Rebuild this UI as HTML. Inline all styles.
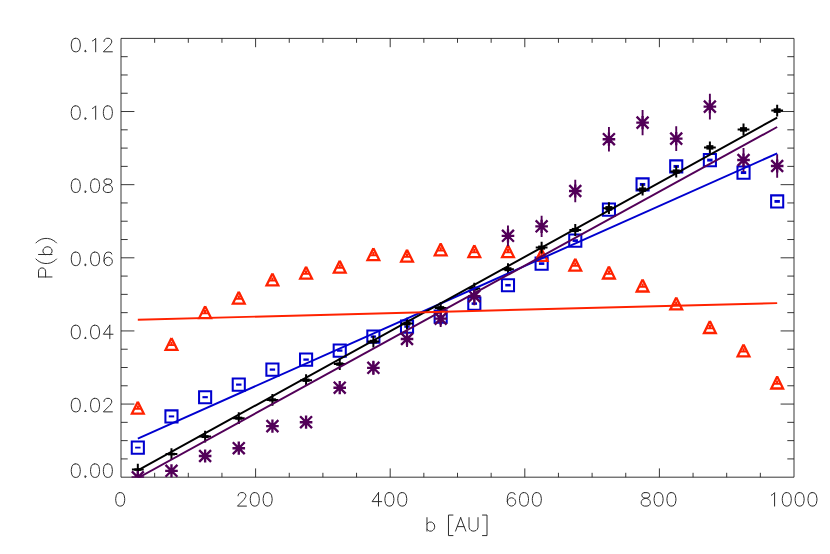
<!DOCTYPE html>
<html><head><meta charset="utf-8"><title>P(b)</title>
<style>html,body{margin:0;padding:0;background:#fff;font-family:"Liberation Sans",sans-serif;}svg{display:block}</style></head>
<body>
<svg width="830" height="554" viewBox="0 0 830 554">
<rect width="830" height="554" fill="#fff"/>
<path d="M121.00 38.40 H794.00 V477.20 H121.00 Z M154.65 477.20 v-4.40 M154.65 38.40 v4.40 M188.30 477.20 v-4.40 M188.30 38.40 v4.40 M221.95 477.20 v-4.40 M221.95 38.40 v4.40 M255.60 477.20 v-8.80 M255.60 38.40 v8.80 M289.25 477.20 v-4.40 M289.25 38.40 v4.40 M322.90 477.20 v-4.40 M322.90 38.40 v4.40 M356.55 477.20 v-4.40 M356.55 38.40 v4.40 M390.20 477.20 v-8.80 M390.20 38.40 v8.80 M423.85 477.20 v-4.40 M423.85 38.40 v4.40 M457.50 477.20 v-4.40 M457.50 38.40 v4.40 M491.15 477.20 v-4.40 M491.15 38.40 v4.40 M524.80 477.20 v-8.80 M524.80 38.40 v8.80 M558.45 477.20 v-4.40 M558.45 38.40 v4.40 M592.10 477.20 v-4.40 M592.10 38.40 v4.40 M625.75 477.20 v-4.40 M625.75 38.40 v4.40 M659.40 477.20 v-8.80 M659.40 38.40 v8.80 M693.05 477.20 v-4.40 M693.05 38.40 v4.40 M726.70 477.20 v-4.40 M726.70 38.40 v4.40 M760.35 477.20 v-4.40 M760.35 38.40 v4.40 M121.00 458.92 h6.70 M794.00 458.92 h-6.70 M121.00 440.63 h6.70 M794.00 440.63 h-6.70 M121.00 422.35 h6.70 M794.00 422.35 h-6.70 M121.00 404.07 h13.40 M794.00 404.07 h-13.40 M121.00 385.78 h6.70 M794.00 385.78 h-6.70 M121.00 367.50 h6.70 M794.00 367.50 h-6.70 M121.00 349.22 h6.70 M794.00 349.22 h-6.70 M121.00 330.93 h13.40 M794.00 330.93 h-13.40 M121.00 312.65 h6.70 M794.00 312.65 h-6.70 M121.00 294.37 h6.70 M794.00 294.37 h-6.70 M121.00 276.08 h6.70 M794.00 276.08 h-6.70 M121.00 257.80 h13.40 M794.00 257.80 h-13.40 M121.00 239.52 h6.70 M794.00 239.52 h-6.70 M121.00 221.23 h6.70 M794.00 221.23 h-6.70 M121.00 202.95 h6.70 M794.00 202.95 h-6.70 M121.00 184.67 h13.40 M794.00 184.67 h-13.40 M121.00 166.38 h6.70 M794.00 166.38 h-6.70 M121.00 148.10 h6.70 M794.00 148.10 h-6.70 M121.00 129.82 h6.70 M794.00 129.82 h-6.70 M121.00 111.53 h13.40 M794.00 111.53 h-13.40 M121.00 93.25 h6.70 M794.00 93.25 h-6.70 M121.00 74.97 h6.70 M794.00 74.97 h-6.70 M121.00 56.68 h6.70 M794.00 56.68 h-6.70" fill="none" stroke="#1c1c1c" stroke-width="0.88"/>
<path d="M119.56 492.62 L117.63 493.26 L116.35 495.19 L115.71 498.40 L115.71 500.32 L116.35 503.53 L117.63 505.46 L119.56 506.10 L120.84 506.10 L122.77 505.46 L124.05 503.53 L124.69 500.32 L124.69 498.40 L124.05 495.19 L122.77 493.26 L120.84 492.62 L119.56 492.62 M238.11 495.83 L238.11 495.19 L238.75 493.90 L239.39 493.26 L240.68 492.62 L243.24 492.62 L244.53 493.26 L245.17 493.90 L245.81 495.19 L245.81 496.47 L245.17 497.75 L243.89 499.68 L237.47 506.10 L246.45 506.10 M254.16 492.62 L252.23 493.26 L250.95 495.19 L250.31 498.40 L250.31 500.32 L250.95 503.53 L252.23 505.46 L254.16 506.10 L255.44 506.10 L257.37 505.46 L258.65 503.53 L259.29 500.32 L259.29 498.40 L258.65 495.19 L257.37 493.26 L255.44 492.62 L254.16 492.62 M267.00 492.62 L265.07 493.26 L263.79 495.19 L263.15 498.40 L263.15 500.32 L263.79 503.53 L265.07 505.46 L267.00 506.10 L268.28 506.10 L270.21 505.46 L271.49 503.53 L272.13 500.32 L272.13 498.40 L271.49 495.19 L270.21 493.26 L268.28 492.62 L267.00 492.62 M378.49 492.62 L372.07 501.61 L381.70 501.61 M378.49 492.62 L378.49 506.10 M388.76 492.62 L386.83 493.26 L385.55 495.19 L384.91 498.40 L384.91 500.32 L385.55 503.53 L386.83 505.46 L388.76 506.10 L390.04 506.10 L391.97 505.46 L393.25 503.53 L393.89 500.32 L393.89 498.40 L393.25 495.19 L391.97 493.26 L390.04 492.62 L388.76 492.62 M401.60 492.62 L399.67 493.26 L398.39 495.19 L397.75 498.40 L397.75 500.32 L398.39 503.53 L399.67 505.46 L401.60 506.10 L402.88 506.10 L404.81 505.46 L406.09 503.53 L406.73 500.32 L406.73 498.40 L406.09 495.19 L404.81 493.26 L402.88 492.62 L401.60 492.62 M515.01 494.54 L514.37 493.26 L512.44 492.62 L511.16 492.62 L509.23 493.26 L507.95 495.19 L507.31 498.40 L507.31 501.61 L507.95 504.17 L509.23 505.46 L511.16 506.10 L511.80 506.10 L513.73 505.46 L515.01 504.17 L515.65 502.25 L515.65 501.61 L515.01 499.68 L513.73 498.40 L511.80 497.75 L511.16 497.75 L509.23 498.40 L507.95 499.68 L507.31 501.61 M523.36 492.62 L521.43 493.26 L520.15 495.19 L519.51 498.40 L519.51 500.32 L520.15 503.53 L521.43 505.46 L523.36 506.10 L524.64 506.10 L526.57 505.46 L527.85 503.53 L528.49 500.32 L528.49 498.40 L527.85 495.19 L526.57 493.26 L524.64 492.62 L523.36 492.62 M536.20 492.62 L534.27 493.26 L532.99 495.19 L532.35 498.40 L532.35 500.32 L532.99 503.53 L534.27 505.46 L536.20 506.10 L537.48 506.10 L539.41 505.46 L540.69 503.53 L541.33 500.32 L541.33 498.40 L540.69 495.19 L539.41 493.26 L537.48 492.62 L536.20 492.62 M644.48 492.62 L642.55 493.26 L641.91 494.54 L641.91 495.83 L642.55 497.11 L643.83 497.75 L646.40 498.40 L648.33 499.04 L649.61 500.32 L650.25 501.61 L650.25 503.53 L649.61 504.82 L648.97 505.46 L647.04 506.10 L644.48 506.10 L642.55 505.46 L641.91 504.82 L641.27 503.53 L641.27 501.61 L641.91 500.32 L643.19 499.04 L645.12 498.40 L647.69 497.75 L648.97 497.11 L649.61 495.83 L649.61 494.54 L648.97 493.26 L647.04 492.62 L644.48 492.62 M657.96 492.62 L656.03 493.26 L654.75 495.19 L654.11 498.40 L654.11 500.32 L654.75 503.53 L656.03 505.46 L657.96 506.10 L659.24 506.10 L661.17 505.46 L662.45 503.53 L663.09 500.32 L663.09 498.40 L662.45 495.19 L661.17 493.26 L659.24 492.62 L657.96 492.62 M670.80 492.62 L668.87 493.26 L667.59 495.19 L666.95 498.40 L666.95 500.32 L667.59 503.53 L668.87 505.46 L670.80 506.10 L672.08 506.10 L674.01 505.46 L675.29 503.53 L675.93 500.32 L675.93 498.40 L675.29 495.19 L674.01 493.26 L672.08 492.62 L670.80 492.62 M771.37 495.19 L772.66 494.54 L774.58 492.62 L774.58 506.10 M786.14 492.62 L784.21 493.26 L782.93 495.19 L782.29 498.40 L782.29 500.32 L782.93 503.53 L784.21 505.46 L786.14 506.10 L787.42 506.10 L789.35 505.46 L790.63 503.53 L791.27 500.32 L791.27 498.40 L790.63 495.19 L789.35 493.26 L787.42 492.62 L786.14 492.62 M798.98 492.62 L797.05 493.26 L795.77 495.19 L795.13 498.40 L795.13 500.32 L795.77 503.53 L797.05 505.46 L798.98 506.10 L800.26 506.10 L802.19 505.46 L803.47 503.53 L804.11 500.32 L804.11 498.40 L803.47 495.19 L802.19 493.26 L800.26 492.62 L798.98 492.62 M811.82 492.62 L809.89 493.26 L808.61 495.19 L807.97 498.40 L807.97 500.32 L808.61 503.53 L809.89 505.46 L811.82 506.10 L813.10 506.10 L815.03 505.46 L816.31 503.53 L816.95 500.32 L816.95 498.40 L816.31 495.19 L815.03 493.26 L813.10 492.62 L811.82 492.62 M75.14 463.92 L73.21 464.56 L71.93 466.49 L71.29 469.70 L71.29 471.62 L71.93 474.83 L73.21 476.76 L75.14 477.40 L76.42 477.40 L78.35 476.76 L79.63 474.83 L80.27 471.62 L80.27 469.70 L79.63 466.49 L78.35 464.56 L76.42 463.92 L75.14 463.92 M85.41 475.99 L84.64 476.76 L85.41 477.53 L86.18 476.76 L85.41 475.99 M85.15 476.76 L85.67 476.76 M94.40 463.92 L92.47 464.56 L91.19 466.49 L90.55 469.70 L90.55 471.62 L91.19 474.83 L92.47 476.76 L94.40 477.40 L95.68 477.40 L97.61 476.76 L98.89 474.83 L99.53 471.62 L99.53 469.70 L98.89 466.49 L97.61 464.56 L95.68 463.92 L94.40 463.92 M107.24 463.92 L105.31 464.56 L104.03 466.49 L103.39 469.70 L103.39 471.62 L104.03 474.83 L105.31 476.76 L107.24 477.40 L108.52 477.40 L110.45 476.76 L111.73 474.83 L112.37 471.62 L112.37 469.70 L111.73 466.49 L110.45 464.56 L108.52 463.92 L107.24 463.92 M75.14 398.38 L73.21 399.03 L71.93 400.95 L71.29 404.16 L71.29 406.09 L71.93 409.30 L73.21 411.22 L75.14 411.87 L76.42 411.87 L78.35 411.22 L79.63 409.30 L80.27 406.09 L80.27 404.16 L79.63 400.95 L78.35 399.03 L76.42 398.38 L75.14 398.38 M85.41 410.45 L84.64 411.22 L85.41 412.00 L86.18 411.22 L85.41 410.45 M85.15 411.22 L85.67 411.22 M94.40 398.38 L92.47 399.03 L91.19 400.95 L90.55 404.16 L90.55 406.09 L91.19 409.30 L92.47 411.22 L94.40 411.87 L95.68 411.87 L97.61 411.22 L98.89 409.30 L99.53 406.09 L99.53 404.16 L98.89 400.95 L97.61 399.03 L95.68 398.38 L94.40 398.38 M104.03 401.59 L104.03 400.95 L104.67 399.67 L105.31 399.03 L106.60 398.38 L109.16 398.38 L110.45 399.03 L111.09 399.67 L111.73 400.95 L111.73 402.24 L111.09 403.52 L109.81 405.45 L103.39 411.87 L112.37 411.87 M75.14 325.25 L73.21 325.89 L71.93 327.82 L71.29 331.03 L71.29 332.96 L71.93 336.17 L73.21 338.09 L75.14 338.73 L76.42 338.73 L78.35 338.09 L79.63 336.17 L80.27 332.96 L80.27 331.03 L79.63 327.82 L78.35 325.89 L76.42 325.25 L75.14 325.25 M85.41 337.32 L84.64 338.09 L85.41 338.86 L86.18 338.09 L85.41 337.32 M85.15 338.09 L85.67 338.09 M94.40 325.25 L92.47 325.89 L91.19 327.82 L90.55 331.03 L90.55 332.96 L91.19 336.17 L92.47 338.09 L94.40 338.73 L95.68 338.73 L97.61 338.09 L98.89 336.17 L99.53 332.96 L99.53 331.03 L98.89 327.82 L97.61 325.89 L95.68 325.25 L94.40 325.25 M109.81 325.25 L103.39 334.24 L113.02 334.24 M109.81 325.25 L109.81 338.73 M75.14 252.12 L73.21 252.76 L71.93 254.69 L71.29 257.90 L71.29 259.82 L71.93 263.03 L73.21 264.96 L75.14 265.60 L76.42 265.60 L78.35 264.96 L79.63 263.03 L80.27 259.82 L80.27 257.90 L79.63 254.69 L78.35 252.76 L76.42 252.12 L75.14 252.12 M85.41 264.19 L84.64 264.96 L85.41 265.73 L86.18 264.96 L85.41 264.19 M85.15 264.96 L85.67 264.96 M94.40 252.12 L92.47 252.76 L91.19 254.69 L90.55 257.90 L90.55 259.82 L91.19 263.03 L92.47 264.96 L94.40 265.60 L95.68 265.60 L97.61 264.96 L98.89 263.03 L99.53 259.82 L99.53 257.90 L98.89 254.69 L97.61 252.76 L95.68 252.12 L94.40 252.12 M111.73 254.04 L111.09 252.76 L109.16 252.12 L107.88 252.12 L105.95 252.76 L104.67 254.69 L104.03 257.90 L104.03 261.11 L104.67 263.67 L105.95 264.96 L107.88 265.60 L108.52 265.60 L110.45 264.96 L111.73 263.67 L112.37 261.75 L112.37 261.11 L111.73 259.18 L110.45 257.90 L108.52 257.25 L107.88 257.25 L105.95 257.90 L104.67 259.18 L104.03 261.11 M75.14 178.98 L73.21 179.63 L71.93 181.55 L71.29 184.76 L71.29 186.69 L71.93 189.90 L73.21 191.82 L75.14 192.47 L76.42 192.47 L78.35 191.82 L79.63 189.90 L80.27 186.69 L80.27 184.76 L79.63 181.55 L78.35 179.63 L76.42 178.98 L75.14 178.98 M85.41 191.05 L84.64 191.82 L85.41 192.60 L86.18 191.82 L85.41 191.05 M85.15 191.82 L85.67 191.82 M94.40 178.98 L92.47 179.63 L91.19 181.55 L90.55 184.76 L90.55 186.69 L91.19 189.90 L92.47 191.82 L94.40 192.47 L95.68 192.47 L97.61 191.82 L98.89 189.90 L99.53 186.69 L99.53 184.76 L98.89 181.55 L97.61 179.63 L95.68 178.98 L94.40 178.98 M106.60 178.98 L104.67 179.63 L104.03 180.91 L104.03 182.19 L104.67 183.48 L105.95 184.12 L108.52 184.76 L110.45 185.40 L111.73 186.69 L112.37 187.97 L112.37 189.90 L111.73 191.18 L111.09 191.82 L109.16 192.47 L106.60 192.47 L104.67 191.82 L104.03 191.18 L103.39 189.90 L103.39 187.97 L104.03 186.69 L105.31 185.40 L107.24 184.76 L109.81 184.12 L111.09 183.48 L111.73 182.19 L111.73 180.91 L111.09 179.63 L109.16 178.98 L106.60 178.98 M75.14 105.85 L73.21 106.49 L71.93 108.42 L71.29 111.63 L71.29 113.56 L71.93 116.77 L73.21 118.69 L75.14 119.33 L76.42 119.33 L78.35 118.69 L79.63 116.77 L80.27 113.56 L80.27 111.63 L79.63 108.42 L78.35 106.49 L76.42 105.85 L75.14 105.85 M85.41 117.92 L84.64 118.69 L85.41 119.46 L86.18 118.69 L85.41 117.92 M85.15 118.69 L85.67 118.69 M92.47 108.42 L93.76 107.78 L95.68 105.85 L95.68 119.33 M107.24 105.85 L105.31 106.49 L104.03 108.42 L103.39 111.63 L103.39 113.56 L104.03 116.77 L105.31 118.69 L107.24 119.33 L108.52 119.33 L110.45 118.69 L111.73 116.77 L112.37 113.56 L112.37 111.63 L111.73 108.42 L110.45 106.49 L108.52 105.85 L107.24 105.85 M75.14 38.32 L73.21 38.96 L71.93 40.89 L71.29 44.10 L71.29 46.02 L71.93 49.23 L73.21 51.16 L75.14 51.80 L76.42 51.80 L78.35 51.16 L79.63 49.23 L80.27 46.02 L80.27 44.10 L79.63 40.89 L78.35 38.96 L76.42 38.32 L75.14 38.32 M85.41 50.39 L84.64 51.16 L85.41 51.93 L86.18 51.16 L85.41 50.39 M85.15 51.16 L85.67 51.16 M92.47 40.89 L93.76 40.24 L95.68 38.32 L95.68 51.80 M104.03 41.53 L104.03 40.89 L104.67 39.60 L105.31 38.96 L106.60 38.32 L109.16 38.32 L110.45 38.96 L111.09 39.60 L111.73 40.89 L111.73 42.17 L111.09 43.45 L109.81 45.38 L103.39 51.80 L112.37 51.80 M426.97 517.62 L426.97 531.10 M426.97 524.04 L428.25 522.75 L429.54 522.11 L431.46 522.11 L432.75 522.75 L434.03 524.04 L434.67 525.96 L434.67 527.25 L434.03 529.17 L432.75 530.46 L431.46 531.10 L429.54 531.10 L428.25 530.46 L426.97 529.17 M452.97 515.05 L448.47 515.05 L448.47 535.59 L452.97 535.59 M460.67 517.62 L455.54 531.10 M460.67 517.62 L465.81 531.10 M457.46 526.61 L463.88 526.61 M469.02 517.62 L469.02 527.25 L469.66 529.17 L470.94 530.46 L472.87 531.10 L474.15 531.10 L476.08 530.46 L477.37 529.17 L478.01 527.25 L478.01 517.62 M482.50 515.05 L487.00 515.05 L487.00 535.59 L482.50 535.59 M38.52 276.96 L52.00 276.96 M38.52 276.96 L38.52 271.18 L39.16 269.26 L39.80 268.61 L41.09 267.97 L43.01 267.97 L44.30 268.61 L44.94 269.26 L45.58 271.18 L45.58 276.96 M35.95 258.98 L37.23 260.27 L39.16 261.55 L41.73 262.84 L44.94 263.48 L47.51 263.48 L50.72 262.84 L53.28 261.55 L55.21 260.27 L56.49 258.98 M38.52 254.49 L52.00 254.49 M44.94 254.49 L43.65 253.21 L43.01 251.92 L43.01 250.00 L43.65 248.71 L44.94 247.43 L46.86 246.79 L48.15 246.79 L50.07 247.43 L51.36 248.71 L52.00 250.00 L52.00 251.92 L51.36 253.21 L50.07 254.49 M35.95 242.93 L37.23 241.65 L39.16 240.37 L41.73 239.08 L44.94 238.44 L47.51 238.44 L50.72 239.08 L53.28 240.37 L55.21 241.65 L56.49 242.93" fill="none" stroke="#2c2c2c" stroke-width="1.0" stroke-linecap="round" stroke-linejoin="miter"/>
<clipPath id="c"><rect x="121.00" y="38.40" width="673.00" height="439.40"/></clipPath>
<g clip-path="url(#c)" fill="none"><g transform="translate(0,0.6)">
<path d="M131.77 440.95 h12.1 v12.1 h-12.1 Z M165.42 409.75 h12.1 v12.1 h-12.1 Z M199.07 390.55 h12.1 v12.1 h-12.1 Z M232.72 377.95 h12.1 v12.1 h-12.1 Z M266.38 362.95 h12.1 v12.1 h-12.1 Z M300.02 352.95 h12.1 v12.1 h-12.1 Z M333.68 343.95 h12.1 v12.1 h-12.1 Z M367.32 329.95 h12.1 v12.1 h-12.1 Z M400.97 319.95 h12.1 v12.1 h-12.1 Z M434.62 309.95 h12.1 v12.1 h-12.1 Z M468.27 296.95 h12.1 v12.1 h-12.1 Z M501.93 278.55 h12.1 v12.1 h-12.1 Z M535.58 256.95 h12.1 v12.1 h-12.1 Z M569.23 233.95 h12.1 v12.1 h-12.1 Z M602.88 202.95 h12.1 v12.1 h-12.1 Z M636.53 177.75 h12.1 v12.1 h-12.1 Z M670.18 159.75 h12.1 v12.1 h-12.1 Z M703.83 153.45 h12.1 v12.1 h-12.1 Z M737.48 165.95 h12.1 v12.1 h-12.1 Z M771.12 194.75 h12.1 v12.1 h-12.1 Z" stroke="#0000cf" stroke-width="2.05"/>
<g fill="#0000cf" stroke="none"><rect x="135.12" y="446.12" width="5.4" height="1.77"/><rect x="168.78" y="414.81" width="5.4" height="1.99"/><rect x="202.43" y="395.55" width="5.4" height="2.10"/><rect x="236.08" y="382.92" width="5.4" height="2.16"/><rect x="269.73" y="367.88" width="5.4" height="2.23"/><rect x="303.38" y="357.86" width="5.4" height="2.27"/><rect x="337.03" y="348.84" width="5.4" height="2.31"/><rect x="370.68" y="334.82" width="5.4" height="2.37"/><rect x="404.32" y="324.80" width="5.4" height="2.41"/><rect x="437.98" y="314.78" width="5.4" height="2.45"/><rect x="471.62" y="301.75" width="5.4" height="2.49"/><rect x="505.28" y="283.32" width="5.4" height="2.56"/><rect x="538.92" y="261.69" width="5.4" height="2.63"/><rect x="572.57" y="238.65" width="5.4" height="2.70"/><rect x="606.22" y="207.60" width="5.4" height="2.79"/><rect x="639.88" y="182.37" width="5.4" height="2.86"/><rect x="673.52" y="164.34" width="5.4" height="2.91"/><rect x="707.17" y="158.04" width="5.4" height="2.93"/><rect x="740.82" y="170.55" width="5.4" height="2.90"/><rect x="774.47" y="199.39" width="5.4" height="2.82"/></g>
<path d="M137.82 401.10 L143.72 413.00 L131.92 413.00 L137.82 401.10 M171.47 337.30 L177.38 349.20 L165.57 349.20 L171.47 337.30 M205.12 305.60 L211.03 317.50 L199.22 317.50 L205.12 305.60 M238.78 291.10 L244.68 303.00 L232.88 303.00 L238.78 291.10 M272.43 272.90 L278.32 284.80 L266.53 284.80 L272.43 272.90 M306.07 266.10 L311.97 278.00 L300.18 278.00 L306.07 266.10 M339.73 260.10 L345.62 272.00 L333.83 272.00 L339.73 260.10 M373.38 247.60 L379.27 259.50 L367.48 259.50 L373.38 247.60 M407.02 249.10 L412.92 261.00 L401.12 261.00 L407.02 249.10 M440.68 242.80 L446.57 254.70 L434.78 254.70 L440.68 242.80 M474.32 244.60 L480.22 256.50 L468.43 256.50 L474.32 244.60 M507.98 244.60 L513.88 256.50 L502.08 256.50 L507.98 244.60 M541.62 248.30 L547.52 260.20 L535.73 260.20 L541.62 248.30 M575.27 258.10 L581.17 270.00 L569.38 270.00 L575.27 258.10 M608.92 266.00 L614.82 277.90 L603.02 277.90 L608.92 266.00 M642.58 279.00 L648.48 290.90 L636.68 290.90 L642.58 279.00 M676.23 296.90 L682.12 308.80 L670.33 308.80 L676.23 296.90 M709.88 320.50 L715.77 332.40 L703.98 332.40 L709.88 320.50 M743.52 343.80 L749.42 355.70 L737.62 355.70 L743.52 343.80 M777.17 376.00 L783.07 387.90 L771.27 387.90 L777.17 376.00" stroke="#ff2200" stroke-width="2.30" stroke-linejoin="miter"/>
<path d="M134.62 407.40 h6.4 v1.8 h-6.4 Z M136.72 405.00 h2.2 v2.8 h-2.2 Z M168.28 343.60 h6.4 v1.8 h-6.4 Z M170.38 341.20 h2.2 v2.8 h-2.2 Z M201.93 311.90 h6.4 v1.8 h-6.4 Z M204.03 309.50 h2.2 v2.8 h-2.2 Z M235.58 297.40 h6.4 v1.8 h-6.4 Z M237.68 295.00 h2.2 v2.8 h-2.2 Z M269.23 279.20 h6.4 v1.8 h-6.4 Z M271.32 276.80 h2.2 v2.8 h-2.2 Z M302.88 272.40 h6.4 v1.8 h-6.4 Z M304.97 270.00 h2.2 v2.8 h-2.2 Z M336.53 266.40 h6.4 v1.8 h-6.4 Z M338.62 264.00 h2.2 v2.8 h-2.2 Z M370.18 253.90 h6.4 v1.8 h-6.4 Z M372.27 251.50 h2.2 v2.8 h-2.2 Z M403.82 255.40 h6.4 v1.8 h-6.4 Z M405.92 253.00 h2.2 v2.8 h-2.2 Z M437.48 249.10 h6.4 v1.8 h-6.4 Z M439.57 246.70 h2.2 v2.8 h-2.2 Z M471.12 250.90 h6.4 v1.8 h-6.4 Z M473.22 248.50 h2.2 v2.8 h-2.2 Z M504.78 250.90 h6.4 v1.8 h-6.4 Z M506.88 248.50 h2.2 v2.8 h-2.2 Z M538.42 254.60 h6.4 v1.8 h-6.4 Z M540.52 252.20 h2.2 v2.8 h-2.2 Z M572.07 264.40 h6.4 v1.8 h-6.4 Z M574.17 262.00 h2.2 v2.8 h-2.2 Z M605.72 272.30 h6.4 v1.8 h-6.4 Z M607.82 269.90 h2.2 v2.8 h-2.2 Z M639.38 285.30 h6.4 v1.8 h-6.4 Z M641.48 282.90 h2.2 v2.8 h-2.2 Z M673.02 303.20 h6.4 v1.8 h-6.4 Z M675.12 300.80 h2.2 v2.8 h-2.2 Z M706.67 326.80 h6.4 v1.8 h-6.4 Z M708.77 324.40 h2.2 v2.8 h-2.2 Z M740.32 350.10 h6.4 v1.8 h-6.4 Z M742.42 347.70 h2.2 v2.8 h-2.2 Z M773.97 382.30 h6.4 v1.8 h-6.4 Z M776.07 379.90 h2.2 v2.8 h-2.2 Z" fill="#ff2200" stroke="none"/>
<path d="M131.92 469.00 h11.80 M137.82 463.10 v11.80 M165.57 453.50 h11.80 M171.47 447.60 v11.80 M199.22 436.00 h11.80 M205.12 430.10 v11.80 M232.88 417.60 h11.80 M238.78 411.70 v11.80 M266.53 399.30 h11.80 M272.43 393.40 v11.80 M300.18 379.60 h11.80 M306.07 373.70 v11.80 M333.83 363.50 h11.80 M339.73 357.60 v11.80 M367.48 341.00 h11.80 M373.38 335.10 v11.80 M401.12 323.00 h11.80 M407.02 317.10 v11.80 M434.78 307.40 h11.80 M440.68 301.50 v11.80 M468.43 288.00 h11.80 M474.32 282.10 v11.80 M502.08 268.60 h11.80 M507.98 262.70 v11.80 M535.73 247.00 h11.80 M541.62 241.10 v11.80 M569.38 229.40 h11.80 M575.27 223.50 v11.80 M603.02 207.60 h11.80 M608.92 201.70 v11.80 M636.68 189.00 h11.80 M642.58 183.10 v11.80 M670.33 171.00 h11.80 M676.23 165.10 v11.80 M703.98 146.80 h11.80 M709.88 140.90 v11.80 M737.62 128.80 h11.80 M743.52 122.90 v11.80 M771.27 110.00 h11.80 M777.17 104.10 v11.80" stroke="#000" stroke-width="2.00"/>
<g fill="#000" stroke="none"><rect x="134.32" y="467.81" width="7" height="2.39"/><rect x="167.97" y="452.17" width="7" height="2.66"/><rect x="201.62" y="434.56" width="7" height="2.87"/><rect x="235.28" y="416.08" width="7" height="3.05"/><rect x="268.93" y="397.70" width="7" height="3.20"/><rect x="302.57" y="377.93" width="7" height="3.34"/><rect x="336.23" y="361.78" width="7" height="3.45"/><rect x="369.88" y="339.21" width="7" height="3.58"/><rect x="403.52" y="321.16" width="7" height="3.68"/><rect x="437.18" y="305.52" width="7" height="3.77"/><rect x="470.82" y="286.07" width="7" height="3.86"/><rect x="504.48" y="266.62" width="7" height="3.96"/><rect x="538.12" y="244.97" width="7" height="4.06"/><rect x="571.77" y="227.33" width="7" height="4.13"/><rect x="605.42" y="205.49" width="7" height="4.23"/><rect x="639.08" y="186.85" width="7" height="4.30"/><rect x="672.73" y="168.81" width="7" height="4.37"/><rect x="706.38" y="144.57" width="7" height="4.46"/><rect x="740.02" y="126.54" width="7" height="4.53"/><rect x="773.67" y="107.70" width="7" height="4.60"/></g>
<path d="M131.52 476.80 h12.60 M137.82 470.20 v13.20 M131.88 470.85 l11.90 11.90 M131.88 482.75 l11.90 -11.90 M165.17 470.20 h12.60 M171.47 463.60 v13.20 M165.53 464.25 l11.90 11.90 M165.53 476.15 l11.90 -11.90 M198.82 455.40 h12.60 M205.12 448.80 v13.20 M199.18 449.45 l11.90 11.90 M199.18 461.35 l11.90 -11.90 M232.47 447.60 h12.60 M238.78 441.00 v13.20 M232.83 441.65 l11.90 11.90 M232.83 453.55 l11.90 -11.90 M266.12 425.50 h12.60 M272.43 418.90 v13.20 M266.48 419.55 l11.90 11.90 M266.48 431.45 l11.90 -11.90 M299.77 421.60 h12.60 M306.07 415.00 v13.20 M300.12 415.65 l11.90 11.90 M300.12 427.55 l11.90 -11.90 M333.43 387.10 h12.60 M339.73 380.50 v13.20 M333.78 381.15 l11.90 11.90 M333.78 393.05 l11.90 -11.90 M367.07 367.20 h12.60 M373.38 360.60 v13.20 M367.43 361.25 l11.90 11.90 M367.43 373.15 l11.90 -11.90 M400.72 338.40 h12.60 M407.02 331.80 v13.20 M401.07 332.45 l11.90 11.90 M401.07 344.35 l11.90 -11.90 M434.38 318.00 h12.60 M440.68 311.40 v13.20 M434.73 312.05 l11.90 11.90 M434.73 323.95 l11.90 -11.90 M468.02 295.60 h12.60 M474.32 289.00 v13.20 M468.38 289.65 l11.90 11.90 M468.38 301.55 l11.90 -11.90 M501.68 235.20 h12.60 M507.98 228.60 v13.20 M502.03 229.25 l11.90 11.90 M502.03 241.15 l11.90 -11.90 M535.33 225.70 h12.60 M541.62 219.10 v13.20 M535.67 219.75 l11.90 11.90 M535.67 231.65 l11.90 -11.90 M568.98 190.40 h12.60 M575.27 183.80 v13.20 M569.32 184.45 l11.90 11.90 M569.32 196.35 l11.90 -11.90 M602.62 138.60 h12.60 M608.92 132.00 v13.20 M602.97 132.65 l11.90 11.90 M602.97 144.55 l11.90 -11.90 M636.28 122.00 h12.60 M642.58 115.40 v13.20 M636.62 116.05 l11.90 11.90 M636.62 127.95 l11.90 -11.90 M669.93 138.00 h12.60 M676.23 131.40 v13.20 M670.27 132.05 l11.90 11.90 M670.27 143.95 l11.90 -11.90 M703.58 106.00 h12.60 M709.88 99.40 v13.20 M703.92 100.05 l11.90 11.90 M703.92 111.95 l11.90 -11.90 M737.23 159.40 h12.60 M743.52 152.80 v13.20 M737.57 153.45 l11.90 11.90 M737.57 165.35 l11.90 -11.90 M770.88 165.40 h12.60 M777.17 158.80 v13.20 M771.22 159.45 l11.90 11.90 M771.22 171.35 l11.90 -11.90" stroke="#520058" stroke-width="2.35"/>
<path d="M373.38 360.18 v14.04 M407.02 330.51 v15.77 M440.68 309.55 v16.89 M474.32 286.58 v18.04 M507.98 224.79 v20.83 M541.62 215.08 v21.23 M575.27 179.06 v22.67 M608.92 126.28 v24.64 M642.58 109.38 v25.23 M676.23 125.67 v24.66 M709.88 93.10 v25.80 M743.52 147.47 v23.87 M777.17 153.58 v23.64" stroke="#520058" stroke-width="1.9"/>
<path d="M137.82 438.00 L777.17 152.80" stroke="#0000cf" stroke-width="1.95"/>
<path d="M137.82 469.80 L777.17 117.00" stroke="#000" stroke-width="1.95"/>
<path d="M137.82 477.40 L777.17 126.40" stroke="#520058" stroke-width="1.95"/>
<path d="M137.82 319.10 L777.17 302.50" stroke="#ff2200" stroke-width="1.95"/>
</g></g>
</svg>
</body></html>
